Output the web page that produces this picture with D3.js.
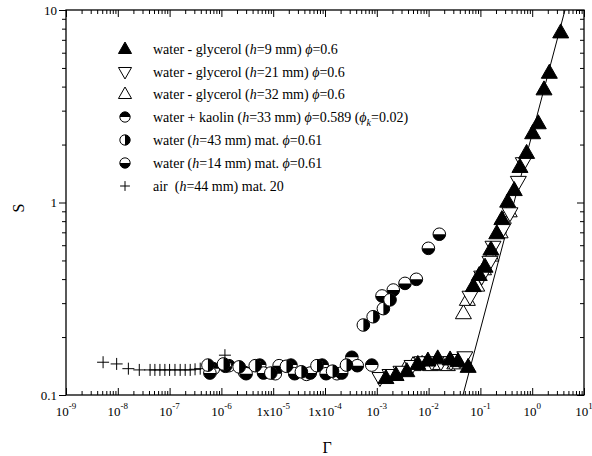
<!DOCTYPE html>
<html>
<head>
<meta charset="utf-8">
<script src="https://cdn.jsdelivr.net/npm/d3@7"></script>
<style>
  body { margin: 0; background: #fff; }
</style>
</head>
<body>
<div id="chart"></div>
<script>
"use strict"

// ---- data ----
let airG  = [5.2e-9, 9.5e-9, 1.6e-8, 2.6e-8, 4.2e-8, 5.2e-8, 6.5e-8, 8.1e-8, 1.0e-7, 1.27e-7, 1.6e-7, 2.0e-7, 2.5e-7, 3.1e-7, 3.9e-7, 1.17e-6];
let airS  = [0.148, 0.145, 0.137, 0.135, 0.135, 0.135, 0.135, 0.135, 0.135, 0.135, 0.135, 0.135, 0.135, 0.136, 0.137, 0.161];

let h43G = [5.5e-7, 1.1e-6, 2.2e-6, 4.5e-6, 9e-6, 1.8e-5, 3.5e-5, 7e-5, 1.4e-4, 2.6e-4, 5.5e-4, 8.5e-4, 1.34e-3, 1.8e-3];
let h43S = [0.143, 0.145, 0.140, 0.142, 0.130, 0.141, 0.132, 0.142, 0.133, 0.143, 0.231, 0.255, 0.281, 0.312];

let kaoG = [7e-7, 1.4e-6, 2.8e-6, 5.5e-6, 1.1e-5, 2.2e-5, 4.4e-5, 8.8e-5, 1.7e-4, 3.3e-4, 8e-4];
let kaoS = [0.137, 0.142, 0.131, 0.143, 0.129, 0.143, 0.128, 0.143, 0.129, 0.157, 0.143];

let h14G = [6e-7, 1.2e-6, 3e-6, 6.5e-6, 1.3e-5, 2.6e-5, 5.2e-5, 1.05e-4, 2.1e-4, 4.2e-4, 1.26e-3, 2.08e-3, 3.5e-3, 5.8e-3, 9.9e-3, 1.61e-2];
let h14S = [0.130, 0.141, 0.129, 0.130, 0.142, 0.129, 0.130, 0.129, 0.130, 0.142, 0.327, 0.351, 0.380, 0.399, 0.578, 0.684];

let h32G = [3.5e-3, 5e-3, 7.5e-3, 1.1e-2, 1.6e-2, 2.3e-2, 3.2e-2, 0.047, 0.056, 0.085, 0.115, 0.16, 0.24, 0.36];
let h32S = [0.136, 0.143, 0.145, 0.143, 0.145, 0.143, 0.146, 0.266, 0.312, 0.37, 0.45, 0.53, 0.70, 0.90];

let h21G = [1.15e-3, 1.8e-3, 2.93e-3, 4.8e-3, 7.5e-3, 1.16e-2, 1.73e-2, 2.7e-2, 4.0e-2, 5.0e-2, 0.063, 0.106, 0.153, 0.175, 0.277, 0.372, 0.54, 0.673];
let h21S = [0.1225, 0.127, 0.132, 0.1415, 0.148, 0.148, 0.148, 0.148, 0.152, 0.157, 0.324, 0.412, 0.492, 0.589, 0.734, 0.879, 1.28, 1.60];

let h9G = [1.5e-3, 2.35e-3, 3.8e-3, 6.2e-3, 9.7e-3, 1.5e-2, 2.6e-2, 3.7e-2, 5.8e-2, 0.073, 0.095, 0.123, 0.16, 0.207, 0.26, 0.336, 0.45, 0.58, 0.78, 1.02, 1.31, 1.69, 2.14, 3.55];
let h9S = [0.1225, 0.127, 0.133, 0.145, 0.151, 0.155, 0.153, 0.150, 0.140, 0.368, 0.42, 0.464, 0.57, 0.692, 0.82, 1.01, 1.16, 1.53, 1.81, 2.29, 2.58, 3.87, 4.72, 7.65];

// fitted power-law line end points
let fitG = [0.0461, 4.3];
let fitS = [0.1, 10];

let xTickExp = [-9, -8, -7, -6, -5, -4, -3, -2, -1, 0, 1];
let xTickPre = ["10", "10", "10", "10", "1x10", "1x10", "10", "10", "10", "10", "10"];
let yTicks = [0.1, 1, 10];
let yTickLabels = ["0.1", "1", "10"];

let legendLabels = [
  [["water - glycerol (", ""], ["h", "i"], ["=9 mm) ", ""], ["\u03D5", "i"], ["=0.6", ""]],
  [["water - glycerol (", ""], ["h", "i"], ["=21 mm) ", ""], ["\u03D5", "i"], ["=0.6", ""]],
  [["water - glycerol (", ""], ["h", "i"], ["=32 mm) ", ""], ["\u03D5", "i"], ["=0.6", ""]],
  [["water + kaolin (", ""], ["h", "i"], ["=33 mm) ", ""], ["\u03D5", "i"], ["=0.589 (", ""], ["\u03D5", "i"], ["k", "sub"], ["=0.02)", "up"]],
  [["water (", ""], ["h", "i"], ["=43 mm) mat. ", ""], ["\u03D5", "i"], ["=0.61", ""]],
  [["water (", ""], ["h", "i"], ["=14 mm) mat. ", ""], ["\u03D5", "i"], ["=0.61", ""]],
  [["air \u00A0(", ""], ["h", "i"], ["=44 mm) mat. 20", ""]]
];
let legendMarkers = ["triUpFill", "triDown", "triUp", "halfTop", "halfRight", "halfBottom", "plus"];

// ---- layout ----
let width = 592, height = 456;
let mLeft = 66, mRight = 584, mTop = 10, mBottom = 395;
let serif = "Liberation Serif, DejaVu Serif, serif";

let svg = d3.select("#chart").append("svg")
    .attr("width", width)
    .attr("height", height);

let x = d3.scaleLog().domain([1e-9, 10]).range([mLeft, mRight]);
let y = d3.scaleLog().domain([0.1, 10]).range([mBottom, mTop]);

// minor and major tick values
let xMinor = [];
for (let e = -9; e < 1; e++) {
  for (let k = 2; k <= 9; k++) xMinor.push(k * Math.pow(10, e));
}
let xMajor = xTickExp.map(e => Math.pow(10, e));
let yMinor = [];
for (let e = -1; e < 1; e++) {
  for (let k = 2; k <= 9; k++) yMinor.push(k * Math.pow(10, e));
}

function axisGroup(axis, tx, ty) {
  let g = svg.append("g").attr("transform", "translate(" + tx + "," + ty + ")").call(axis);
  g.selectAll("text").remove();
  g.select(".domain").remove();
  g.selectAll("line").attr("stroke", "#000").attr("stroke-width", 1);
  return g;
}

// bottom: ticks inward
axisGroup(d3.axisBottom(x).tickValues(xMinor).tickSize(-4), 0, mBottom);
axisGroup(d3.axisBottom(x).tickValues(xMajor).tickSize(-7), 0, mBottom);
// top: ticks inward
axisGroup(d3.axisTop(x).tickValues(xMinor).tickSize(-4), 0, mTop);
axisGroup(d3.axisTop(x).tickValues(xMajor).tickSize(-7), 0, mTop);
// left: ticks outward
axisGroup(d3.axisLeft(y).tickValues(yMinor).tickSize(4), mLeft, 0);
axisGroup(d3.axisLeft(y).tickValues(yTicks).tickSize(7), mLeft, 0);
// right: ticks inward
axisGroup(d3.axisRight(y).tickValues(yMinor).tickSize(-4), mRight, 0);
axisGroup(d3.axisRight(y).tickValues(yTicks).tickSize(-7), mRight, 0);

// frame
svg.append("rect")
    .attr("x", mLeft).attr("y", mTop)
    .attr("width", mRight - mLeft).attr("height", mBottom - mTop)
    .attr("fill", "none").attr("stroke", "#000").attr("stroke-width", 1.3);

// x tick labels with superscripts
xTickExp.forEach(function(e, i) {
  let t = svg.append("text")
      .attr("x", x(Math.pow(10, e)))
      .attr("y", 416)
      .attr("text-anchor", "middle")
      .attr("font-family", serif)
      .attr("font-size", 13);
  t.append("tspan").text(xTickPre[i]);
  t.append("tspan").attr("dy", -7).attr("font-size", 9).text(e);
});

// y tick labels
yTicks.forEach(function(v, i) {
  svg.append("text")
      .attr("x", 57)
      .attr("y", y(v))
      .attr("dy", "0.35em")
      .attr("text-anchor", "end")
      .attr("font-family", serif)
      .attr("font-size", 13)
      .text(yTickLabels[i]);
});

// axis titles
svg.append("text")
    .attr("x", 327).attr("y", 453)
    .attr("text-anchor", "middle")
    .attr("font-family", serif)
    .attr("font-size", 16)
    .text("\u0393");
svg.append("text")
    .attr("transform", "translate(24,208) rotate(-90)")
    .attr("text-anchor", "middle")
    .attr("font-family", serif)
    .attr("font-size", 16)
    .text("S");

// ---- markers ----
function drawMarker(g, type, cx, cy, s) {
  let w = 8 * s, hu = 8.5 * s, hd = 5.5 * s, r = 6.3 * s;
  if (type === "triUpFill" || type === "triUp") {
    g.append("path")
        .attr("d", "M" + cx + "," + (cy - hu) + "L" + (cx + w) + "," + (cy + hd) + "L" + (cx - w) + "," + (cy + hd) + "Z")
        .attr("fill", type === "triUpFill" ? "#000" : "#fff")
        .attr("stroke", "#000").attr("stroke-width", 1);
  } else if (type === "triDown") {
    g.append("path")
        .attr("d", "M" + cx + "," + (cy + hu) + "L" + (cx + w) + "," + (cy - hd) + "L" + (cx - w) + "," + (cy - hd) + "Z")
        .attr("fill", "#fff")
        .attr("stroke", "#000").attr("stroke-width", 1);
  } else if (type === "plus") {
    let a = 6 * s;
    g.append("path")
        .attr("d", "M" + (cx - a) + "," + cy + "H" + (cx + a) + "M" + cx + "," + (cy - a) + "V" + (cy + a))
        .attr("stroke", "#000").attr("stroke-width", 1).attr("fill", "none");
  } else {
    g.append("circle").attr("cx", cx).attr("cy", cy).attr("r", r).attr("fill", "#fff");
    let d;
    if (type === "halfTop") {
      d = "M" + (cx - r) + "," + cy + "A" + r + "," + r + " 0 0 1 " + (cx + r) + "," + cy + "Z";
    } else if (type === "halfBottom") {
      d = "M" + (cx - r) + "," + cy + "A" + r + "," + r + " 0 0 0 " + (cx + r) + "," + cy + "Z";
    } else {
      d = "M" + cx + "," + (cy - r) + "A" + r + "," + r + " 0 0 1 " + cx + "," + (cy + r) + "Z";
    }
    g.append("path").attr("d", d).attr("fill", "#000");
    g.append("circle").attr("cx", cx).attr("cy", cy).attr("r", r)
        .attr("fill", "none").attr("stroke", "#000").attr("stroke-width", 1);
  }
}

function drawSeries(gs, ss, type) {
  let g = svg.append("g").attr("class", "series");
  gs.forEach(function(gv, i) {
    drawMarker(g, type, x(gv), y(ss[i]), 1);
  });
}

// fit line
svg.append("line")
    .attr("x1", x(fitG[0])).attr("y1", y(fitS[0]))
    .attr("x2", x(fitG[1])).attr("y2", y(fitS[1]))
    .attr("stroke", "#000").attr("stroke-width", 1);

drawSeries(airG, airS, "plus");
drawSeries(kaoG, kaoS, "halfTop");
drawSeries(h14G, h14S, "halfBottom");
drawSeries(h43G, h43S, "halfRight");
drawSeries(h32G, h32S, "triUp");
drawSeries(h21G, h21S, "triDown");
drawSeries(h9G, h9S, "triUpFill");

// ---- legend ----
let legendY = [49, 72, 94, 117, 140, 163, 186];
legendLabels.forEach(function(parts, i) {
  let g = svg.append("g").attr("class", "legend");
  drawMarker(g, legendMarkers[i], 125, legendY[i], 0.82);
  let t = g.append("text")
      .attr("x", 153)
      .attr("y", legendY[i] + 5)
      .attr("font-family", serif)
      .attr("font-size", 14);
  parts.forEach(function(p) {
    let ts = t.append("tspan").text(p[0]);
    if (p[1] === "i") ts.attr("font-style", "italic");
    if (p[1] === "sub") ts.attr("font-style", "italic").attr("font-size", 10).attr("dy", 4);
    if (p[1] === "up") ts.attr("dy", -4);
  });
});
</script>
</body>
</html>
